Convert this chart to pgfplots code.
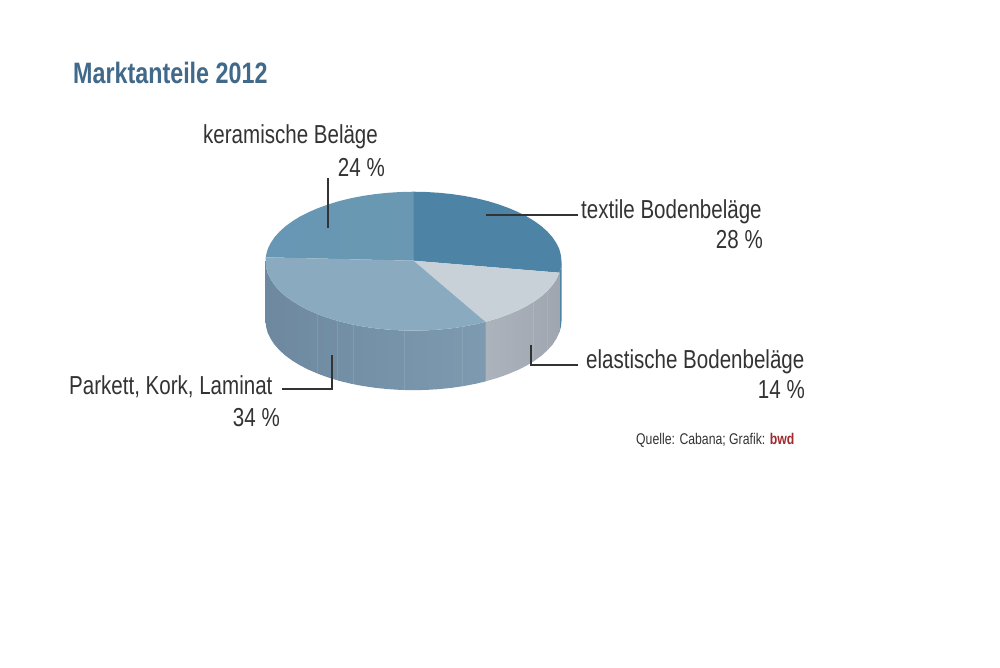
\documentclass[border=0pt]{standalone}
\usepackage{fontspec}
\setmainfont[FakeStretch=0.79]{Liberation Sans}
\usepackage{pgfplots}
\pgfplotsset{compat=1.18}
\definecolor{titleblue}{HTML}{41698A}
\definecolor{txt}{HTML}{333333}
\definecolor{bwdred}{HTML}{9E2A2F}
\definecolor{topTextil}{HTML}{4D84A6}
\definecolor{topKeramL}{HTML}{6797B4}
\definecolor{topKeramR}{HTML}{6A98B3}
\definecolor{topParkett}{HTML}{8AAABF}
\definecolor{topElast}{HTML}{C8D1D8}
\definecolor{rimElastL}{HTML}{ADB3BC}
\definecolor{rimElastR}{HTML}{9FA6AF}
\definecolor{rimParkL}{HTML}{6E899F}
\definecolor{rimParkM}{HTML}{728DA2}
\definecolor{rimParkR}{HTML}{7D9AB0}
\tikzset{lab/.style={font=\fontsize{26}{30}\selectfont, text=txt, inner sep=0pt}}
\begin{document}
\begin{tikzpicture}
\begin{axis}[
  scale only axis, width=1000pt, height=667pt,
  xmin=0, xmax=1000, ymin=0, ymax=667, y dir=reverse,
  hide axis, clip=false, no markers,
]
% page
\addplot[draw=none, fill=white] coordinates {(0,0)(1000,0)(1000,667)(0,667)(0,0)};

% rim: textile sliver
\addplot[draw=none, fill=topTextil] coordinates {
  (561.5,261.2)(560.9,267.3)(559.4,272.7)(559.4,332.2)(560.9,326.8)(561.5,320.7)};
% rim: elastische
\addplot[draw=none, left color=rimElastL, right color=rimElastR] coordinates {
  (559.4,272.7)(556.4,279.2)(552.6,285.0)(547.6,290.6)(541.7,296.0)(534.7,301.1)(526.9,305.9)
  (518.2,310.3)(508.6,314.4)(498.4,318.1)(485.5,321.9)
  (485.5,381.4)(498.4,377.6)(508.6,373.9)(518.2,369.8)(526.9,365.4)(534.7,360.6)(541.7,355.5)
  (547.6,350.1)(552.6,344.5)(556.4,338.7)(559.4,332.2)};
% rim: parkett
\addplot[draw=none, left color=rimParkL, middle color=rimParkM, right color=rimParkR] coordinates {
  (485.5,321.9)(476.0,324.2)(464.1,326.5)(451.8,328.3)(439.2,329.6)(426.4,330.4)(413.5,330.7)
  (400.6,330.4)(387.8,329.6)(375.2,328.3)(362.9,326.5)(351.0,324.2)(339.5,321.4)(328.6,318.1)
  (318.4,314.4)(308.8,310.3)(300.1,305.9)(292.3,301.1)(285.3,296.0)(279.4,290.6)(274.4,285.0)
  (270.6,279.2)(267.7,273.3)(266.1,267.3)(265.5,261.2)
  (265.5,320.7)(266.1,326.8)(267.7,332.8)(270.6,338.7)(274.4,344.5)(279.4,350.1)(285.3,355.5)
  (292.3,360.6)(300.1,365.4)(308.8,369.8)(318.4,373.9)(328.6,377.6)(339.5,380.9)(351.0,383.7)
  (362.9,386.0)(375.2,387.8)(387.8,389.1)(400.6,389.9)(413.5,390.2)(426.4,389.9)(439.2,389.1)
  (451.8,387.8)(464.1,386.0)(476.0,383.7)(485.5,381.4)};
% faint seams in the rim
\addplot[white, opacity=0.1, line width=0.7pt] coordinates {(317,313.9)(317,373.4)};
\addplot[white, opacity=0.1, line width=0.7pt] coordinates {(337,320.7)(337,380.2)};
\addplot[white, opacity=0.1, line width=0.7pt] coordinates {(353,324.6)(353,384.1)};
\addplot[white, opacity=0.1, line width=0.7pt] coordinates {(404,330.6)(404,390.1)};
\addplot[white, opacity=0.1, line width=0.7pt] coordinates {(462,326.9)(462,386.4)};
\addplot[white, opacity=0.1, line width=0.7pt] coordinates {(533,302.2)(533,361.7)};
\addplot[white, opacity=0.1, line width=0.7pt] coordinates {(547,291.2)(547,350.7)};

% top: keramische 24 %
\addplot[draw=none, left color=topKeramL, right color=topKeramR] coordinates {
  (413.5,260.7)(265.7,257.3)(266.1,255.1)(267.7,249.1)(270.6,243.2)(274.4,237.4)(279.4,231.8)
  (285.3,226.4)(292.3,221.3)(300.1,216.5)(308.8,212.1)(318.4,208.0)(328.6,204.3)(339.5,201.0)
  (351.0,198.2)(362.9,195.9)(375.2,194.1)(387.8,192.8)(400.6,192.0)(413.5,191.7)};
% top: textile 28 %
\addplot[draw=none, fill=topTextil] coordinates {
  (413.5,260.7)(413.5,191.7)(426.4,192.0)(439.2,192.8)(451.8,194.1)(464.1,195.9)(476.0,198.2)
  (487.5,201.0)(498.4,204.3)(508.6,208.0)(518.2,212.1)(526.9,216.5)(534.7,221.3)(541.7,226.4)
  (547.6,231.8)(552.6,237.4)(556.4,243.2)(559.3,249.1)(560.9,255.1)(561.5,261.2)(560.9,267.3)(559.4,272.7)};
% top: elastische 14 %
\addplot[draw=none, fill=topElast] coordinates {
  (413.5,260.7)(559.4,272.7)(556.4,279.2)(552.6,285.0)(547.6,290.6)(541.7,296.0)(534.7,301.1)
  (526.9,305.9)(518.2,310.3)(508.6,314.4)(498.4,318.1)(485.5,321.9)};
% top: parkett 34 %
\addplot[draw=none, fill=topParkett] coordinates {
  (413.5,260.7)(485.5,321.9)(476.0,324.2)(464.1,326.5)(451.8,328.3)(439.2,329.6)(426.4,330.4)
  (413.5,330.7)(400.6,330.4)(387.8,329.6)(375.2,328.3)(362.9,326.5)(351.0,324.2)(339.5,321.4)
  (328.6,318.1)(318.4,314.4)(308.8,310.3)(300.1,305.9)(292.3,301.1)(285.3,296.0)(279.4,290.6)
  (274.4,285.0)(270.6,279.2)(267.7,273.3)(266.1,267.3)(265.5,261.2)(265.7,257.3)};

% leader lines
\addplot[txt, line width=1.7pt] coordinates {(327.7,178)(327.7,228)};
\addplot[txt, line width=1.7pt] coordinates {(486,215.3)(578,215.3)};
\addplot[txt, line width=1.7pt] coordinates {(531,345)(531,365)(578,365)};
\addplot[txt, line width=1.7pt] coordinates {(331.7,355)(331.7,389.3)(282,389.3)};

% text
\node[anchor=base west, inner sep=0pt, text=titleblue, font=\fontsize{29.5}{32}\selectfont\bfseries] at (axis cs:73,83) {Marktanteile 2012};
\node[lab, anchor=base west] at (axis cs:203,143) {keramische Beläge};
\node[lab, anchor=base east] at (axis cs:385,176) {24 \%};
\node[lab, anchor=base west] at (axis cs:581,218) {textile Bodenbeläge};
\node[lab, anchor=base east] at (axis cs:763,248) {28 \%};
\node[lab, anchor=base west] at (axis cs:586,368) {elastische Bodenbeläge};
\node[lab, anchor=base east] at (axis cs:805,398) {14 \%};
\node[lab, anchor=base west] at (axis cs:69,394) {Parkett, Kork, Laminat};
\node[lab, anchor=base east] at (axis cs:280,426) {34 \%};
\node[anchor=base west, inner sep=0pt, text=txt, font=\fontsize{15.5}{18}\selectfont] at (axis cs:636,444) {Quelle: Cabana; Grafik: \textcolor{bwdred}{\textbf{bwd}}};
\end{axis}
\end{tikzpicture}
\end{document}
